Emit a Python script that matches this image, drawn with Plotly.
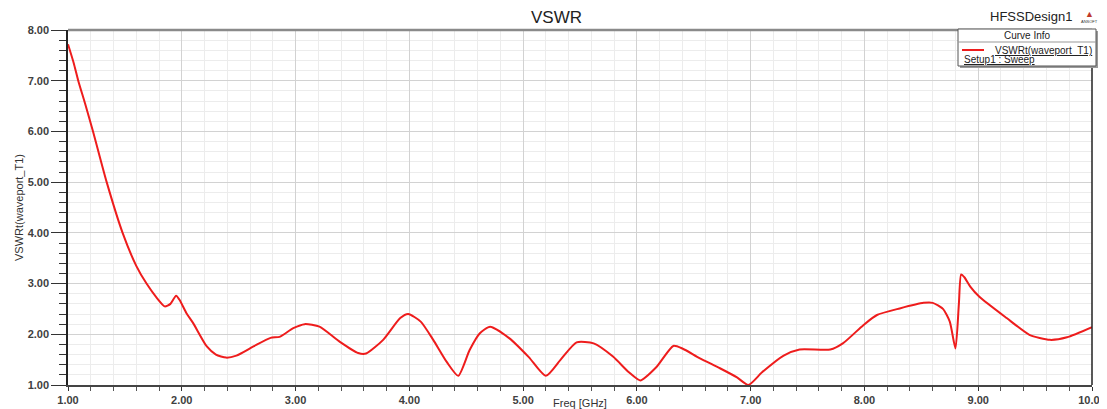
import plotly.graph_objects as go

freq = [1.00, 1.05, 1.09, 1.15, 1.22, 1.34, 1.48, 1.60, 1.69, 1.78, 1.85, 1.90, 1.95, 1.98,
        2.04, 2.10, 2.22, 2.30, 2.39, 2.48, 2.63, 2.78, 2.86, 2.98, 3.08, 3.21, 3.39, 3.55,
        3.62, 3.77, 3.92, 3.99, 4.10, 4.21, 4.33, 4.43, 4.53, 4.62, 4.71, 4.88, 5.05, 5.20,
        5.33, 5.47, 5.62, 5.79, 5.93, 6.03, 6.17, 6.32, 6.40, 6.55, 6.73, 6.88, 6.98, 7.10,
        7.29, 7.43, 7.70, 7.81, 7.99, 8.11, 8.31, 8.52, 8.60, 8.69, 8.75, 8.80, 8.83, 8.85,
        8.88, 8.93, 9.01, 9.25, 9.45, 9.63, 9.78, 10.00]
vswr = [7.72, 7.35, 7.00, 6.55, 6.00, 5.00, 4.00, 3.35, 3.00, 2.72, 2.55, 2.60, 2.76, 2.68,
        2.42, 2.22, 1.76, 1.60, 1.54, 1.58, 1.76, 1.93, 1.95, 2.12, 2.20, 2.15, 1.85, 1.63,
        1.62, 1.89, 2.32, 2.40, 2.25, 1.89, 1.45, 1.18, 1.69, 2.02, 2.15, 1.92, 1.55, 1.18,
        1.50, 1.84, 1.82, 1.56, 1.25, 1.09, 1.35, 1.77, 1.72, 1.53, 1.33, 1.15, 1.00, 1.25,
        1.58, 1.70, 1.70, 1.82, 2.18, 2.38, 2.51, 2.62, 2.62, 2.50, 2.25, 1.72, 2.60, 3.18,
        3.12, 2.94, 2.74, 2.32, 1.99, 1.89, 1.94, 2.14]

x_ticks = [1, 2, 3, 4, 5, 6, 7, 8, 9, 10]
x_tick_labels = ["1.00", "2.00", "3.00", "4.00", "5.00", "6.00", "7.00", "8.00", "9.00", "10.00"]
y_ticks = [1, 2, 3, 4, 5, 6, 7, 8]
y_tick_labels = ["1.00", "2.00", "3.00", "4.00", "5.00", "6.00", "7.00", "8.00"]

OFF = 8  # page body margin
PW, PH = 1107, 409
W, H = PW - OFF, PH - OFF
# plot area in page pixels
L, R, T, B = 68, 1092, 30, 385


def px(x):
    return (x - L) / (R - L)


def py(y):
    return (B - y) / (B - T)


fig = go.Figure()
fig.add_trace(go.Scatter(
    x=freq, y=vswr, mode="lines",
    line=dict(color="#ee1c1c", width=2, shape="spline", smoothing=0.6),
    showlegend=False, hoverinfo="skip",
))

fig.update_layout(
    width=W, height=H,
    margin=dict(l=L - OFF, r=PW - R, t=T - OFF, b=PH - B, autoexpand=False),
    paper_bgcolor="white", plot_bgcolor="white",
    font=dict(family="Liberation Sans, Arial", color="#222"),
    xaxis=dict(
        range=[1, 10], tickvals=x_ticks, ticktext=x_tick_labels,
        tickfont=dict(family="Liberation Sans, Arial", size=11, color="#404040", weight="bold"),
        showgrid=True, gridcolor="#d2d2d2", gridwidth=1,
        ticks="outside", ticklen=4, tickcolor="#333",
        minor=dict(dtick=0.2, showgrid=True, gridcolor="#ececec", ticks="outside",
                   ticklen=4, tickcolor="#555"),
        showline=True, linecolor="#444", linewidth=1.5, mirror=False,
        zeroline=False, fixedrange=True,
        title=dict(text="Freq [GHz]", font=dict(size=11, color="#333"), standoff=1),
    ),
    yaxis=dict(
        range=[1, 8], tickvals=y_ticks, ticktext=y_tick_labels,
        tickfont=dict(family="Liberation Sans, Arial", size=11, color="#404040", weight="bold"),
        showgrid=True, gridcolor="#d2d2d2", gridwidth=1,
        ticks="outside", ticklen=15, tickcolor="#333",
        minor=dict(dtick=0.2, showgrid=True, gridcolor="#ececec", ticks="outside",
                   ticklen=7, tickcolor="#333"),
        showline=True, linecolor="#222", linewidth=1.5, mirror=False,
        zeroline=False, fixedrange=True,
        title=dict(text="VSWRt(waveport_T1)", font=dict(size=11, color="#333"), standoff=2),
    ),
)

# chart title
fig.add_annotation(x=px(556), y=py(17), xref="paper", yref="paper", text="VSWR",
                   showarrow=False, font=dict(size=17, color="#222"),
                   xanchor="center", yanchor="middle")

# top border (gray) and right border (black)
fig.add_shape(type="line", xref="paper", yref="paper", x0=0, x1=1, y0=1, y1=1,
              line=dict(color="#8a8a8a", width=2.5))
fig.add_shape(type="line", xref="paper", yref="paper", x0=1, x1=1, y0=0, y1=1,
              line=dict(color="#222", width=1.5))

# HFSSDesign1 label + logo
fig.add_annotation(x=px(1031), y=py(16), xref="paper", yref="paper", text="HFSSDesign1",
                   showarrow=False, font=dict(size=13, color="#222"), xanchor="center", yanchor="middle")
fig.add_annotation(x=px(1089), y=py(14), xref="paper", yref="paper", text="▲",
                   showarrow=False, font=dict(size=9, color="#c0392b"), xanchor="center", yanchor="middle")
fig.add_annotation(x=px(1089), y=py(21), xref="paper", yref="paper", text="ANSOFT",
                   showarrow=False, font=dict(size=4, color="#333"), xanchor="center", yanchor="middle")

# legend box (Curve Info)
fig.add_shape(type="rect", xref="paper", yref="paper", x0=px(960), x1=px(1098), y0=py(68), y1=py(31),
              line=dict(width=0), fillcolor="#9a9a9a", layer="above")
fig.add_shape(type="rect", xref="paper", yref="paper", x0=px(958), x1=px(1096), y0=py(66), y1=py(29),
              line=dict(color="#555", width=1), fillcolor="white", layer="above")
fig.add_shape(type="line", xref="paper", yref="paper", x0=px(958), x1=px(1096), y0=py(42), y1=py(42),
              line=dict(color="#999", width=1), layer="above")
fig.add_annotation(x=px(1027), y=py(36), xref="paper", yref="paper", text="Curve Info",
                   showarrow=False, font=dict(size=10, color="#222"), xanchor="center", yanchor="middle")
fig.add_shape(type="line", xref="paper", yref="paper", x0=px(962), x1=px(984), y0=py(50), y1=py(50),
              line=dict(color="#ee1c1c", width=2), layer="above")
fig.add_annotation(x=px(1094), y=py(50), xref="paper", yref="paper", text="<u>VSWRt(waveport_T1)</u>",
                   showarrow=False, font=dict(size=10, color="#222"), xanchor="right", yanchor="middle")
fig.add_annotation(x=px(962), y=py(59), xref="paper", yref="paper", text="<u>Setup1 : Sweep</u>",
                   showarrow=False, font=dict(size=10, color="#222"), xanchor="left", yanchor="middle")

fig.write_html("out.html")
